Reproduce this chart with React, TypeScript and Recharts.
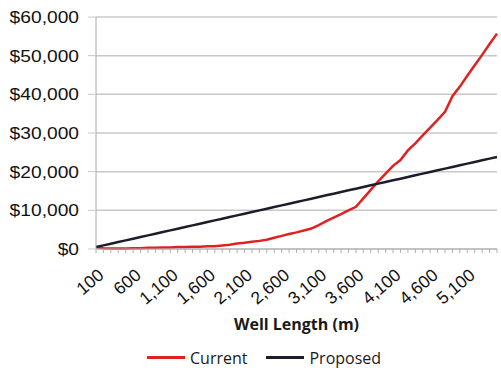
import { LineChart, Line, XAxis, YAxis, CartesianGrid, Legend } from 'recharts';

const wellLengths = [
  100, 200, 300, 400, 500, 600, 700, 800, 900, 1000,
  1100, 1200, 1300, 1400, 1500, 1600, 1700, 1800, 1900, 2000,
  2100, 2200, 2300, 2400, 2500, 2600, 2700, 2800, 2900, 3000,
  3100, 3200, 3300, 3400, 3500, 3600, 3700, 3800, 3900, 4000,
  4100, 4200, 4300, 4400, 4500, 4600, 4700, 4800, 4900, 5000,
  5100, 5200, 5300, 5400, 5500,
];

const currentCost = [
  500, 200, 100, 100, 100, 200, 200, 300, 300, 400,
  400, 500, 500, 600, 600, 700, 700, 900, 1100, 1400,
  1600, 1900, 2100, 2400, 2900, 3400, 3900, 4300, 4800, 5300,
  6200, 7200, 8100, 9000, 10000, 10900, 13100, 15300, 17500, 19500,
  21500, 23000, 25500, 27300, 29400, 31400, 33400, 35500, 39500, 42000,
  44800, 47500, 50200, 53000, 55700,
];

const proposedCost = [
  500, 930, 1360, 1790, 2230, 2660, 3090, 3520, 3950, 4380,
  4820, 5250, 5680, 6110, 6540, 6970, 7400, 7840, 8270, 8700,
  9130, 9560, 9990, 10420, 10860, 11290, 11720, 12150, 12580, 13010,
  13450, 13880, 14310, 14740, 15170, 15600, 16030, 16470, 16900, 17330,
  17760, 18190, 18620, 19050, 19490, 19920, 20350, 20780, 21210, 21640,
  22080, 22510, 22940, 23370, 23800,
];

const yTicks = [0, 10000, 20000, 30000, 40000, 50000, 60000];

const RED = '#de2222';
const DARK = '#1c1c2a';

const data = wellLengths.map((len, i) => ({
  len,
  current: currentCost[i],
  proposed: proposedCost[i],
}));

const money = (v: number) => '$' + v.toLocaleString('en-US');

function YTick({ x, y, payload }: any) {
  return (
    <g transform={`translate(${x},${y}) scale(1.13,1)`}>
      <text x={0} y={0} dy="0.36em" textAnchor="end" fontSize={17} fill="#111" fontFamily="'Liberation Sans', Arial, sans-serif">
        {money(payload.value)}
      </text>
    </g>
  );
}

function XTick({ x, y, payload, index }: any) {
  const labelled = index % 5 === 0;
  const tx = x + 9;
  const ty = y + 28;
  return (
    <g>
      <line x1={x} y1={y} x2={x} y2={y + 4} stroke="#b0b0b0" />
      {labelled && (
        <text
          x={tx}
          y={ty}
          textAnchor="end"
          fontSize={17.5}
          fill="#111"
          fontFamily="'Liberation Sans', Arial, sans-serif"
          transform={`rotate(-40, ${tx}, ${ty})`}
        >
          {payload.value.toLocaleString('en-US')}
        </text>
      )}
    </g>
  );
}

function LegendBox() {
  const item = (color: string, label: string) => (
    <div style={{ display: 'flex', alignItems: 'center', marginRight: 19 }}>
      <div style={{ width: 38, height: 3, background: color, marginRight: 5 }} />
      <span style={{ fontSize: 16, color: '#1a1a1a' }}>{label}</span>
    </div>
  );
  return (
    <div
      style={{
        display: 'flex',
        height: 24,
        alignItems: 'center',
        paddingLeft: 147,
        paddingTop: 3,
        boxSizing: 'border-box',
        fontFamily: "'Open Sans', sans-serif",
      }}
    >
      {item(RED, 'Current')}
      {item(DARK, 'Proposed')}
    </div>
  );
}

export default function App() {
  return (
    <div style={{ position: 'absolute', left: 0, top: 0, background: '#fff' }}>
      <LineChart width={501} height={368} data={data} margin={{ top: 17, right: 4, bottom: 0, left: 0 }}>
        <CartesianGrid vertical={false} stroke="#c8c8c8" strokeWidth={1.5} />
        <XAxis
          dataKey="len"
          type="category"
          scale="point"
          padding={{ left: 0, right: 0 }}
          interval={0}
          height={95}
          tickLine={false}
          tickSize={0}
          tickMargin={0}
          axisLine={{ stroke: '#b0b0b0' }}
          tick={<XTick />}
          label={{
            value: 'Well Length (m)',
            position: 'insideBottom',
            offset: 14,
            style: { fontSize: 16, fontWeight: 700, fill: '#1a1a1a', fontFamily: "'Open Sans', sans-serif" },
          }}
        />
        <YAxis
          domain={[0, 60000]}
          ticks={yTicks}
          width={96}
          tickSize={8}
          tickMargin={9}
          tickLine={{ stroke: '#c8c8c8' }}
          axisLine={{ stroke: '#a8a8a8' }}
          tick={<YTick />}
        />
        <Legend verticalAlign="bottom" height={24} content={<LegendBox />} />
        <Line type="linear" dataKey="current" stroke={RED} strokeWidth={2.5} dot={false} isAnimationActive={false} />
        <Line type="linear" dataKey="proposed" stroke={DARK} strokeWidth={2.5} dot={false} isAnimationActive={false} />
      </LineChart>
    </div>
  );
}
